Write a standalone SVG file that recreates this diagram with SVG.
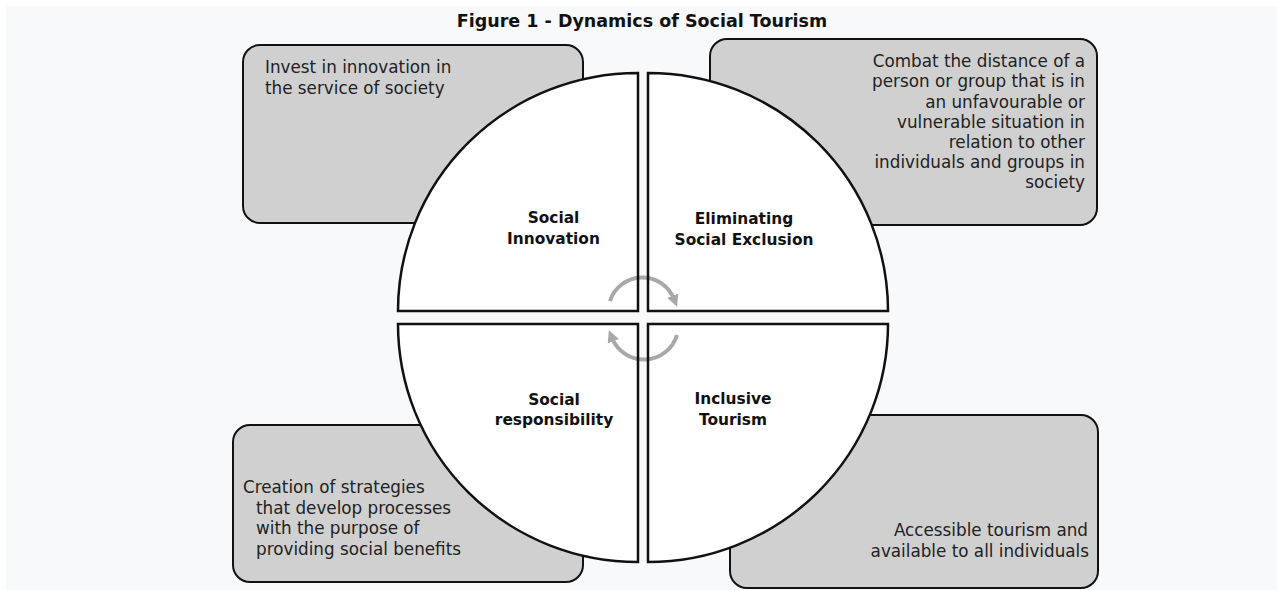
<svg xmlns="http://www.w3.org/2000/svg" xmlns:xlink="http://www.w3.org/1999/xlink" width="1277" height="590" viewBox="0 0 1277 590">
  <style>
    .bg { fill: #f8f9fa; }
    .box { fill: #d0d0d0; stroke: #111; stroke-width: 2; }
    .qfill { fill: #ffffff; stroke: none; }
    .qline { fill: none; stroke: #111; stroke-width: 2.5; stroke-linejoin: miter; }
    .txt { font-family: "DejaVu Sans", "Open Sans", sans-serif; font-size: 16.8px; fill: #222; }
    .lbl { font-family: "DejaVu Sans", "Open Sans", sans-serif; font-size: 15.4px; font-weight: bold; fill: #111; text-anchor: middle; }
    .title { font-family: "DejaVu Sans", "Open Sans", sans-serif; font-size: 17.5px; font-weight: bold; fill: #111; text-anchor: middle; }
    .cyc { fill: none; stroke: #a8a8a8; stroke-width: 4; }
  </style>
  <defs>
    <marker id="ah" viewBox="0 0 10 10" refX="3" refY="5" markerWidth="3" markerHeight="3" orient="auto" markerUnits="strokeWidth">
      <path d="M0,0 L10,5 L0,10 Z" fill="#a8a8a8"/>
    </marker>
    <path id="qTL" d="M638,73 L638,311 L398,311 A240,238 0 0 1 638,73 Z"/>
    <path id="qTR" d="M648,73 L648,311 L888,311 A240,238 0 0 0 648,73 Z"/>
    <path id="qBL" d="M398,324 L638,324 L638,562 A240,238 0 0 1 398,324 Z"/>
    <path id="qBR" d="M648,324 L888,324 A240,238 0 0 1 648,562 Z"/>
  </defs>

  <rect class="bg" x="6" y="6" width="1271" height="584"/>

  <text class="title" x="642" y="27">Figure 1 - Dynamics of Social Tourism</text>

  <g id="box-innovation">
    <rect class="box" x="243" y="45" width="340" height="178" rx="17"/>
    <text class="txt" x="265" y="73">Invest in innovation in</text>
    <text class="txt" x="265" y="94">the service of society</text>
  </g>
  <g id="box-exclusion">
    <rect class="box" x="710" y="39" width="387" height="186" rx="17"/>
    <g text-anchor="end">
      <text class="txt" x="1085" y="67">Combat the distance of a</text>
      <text class="txt" x="1085" y="87">person or group that is in</text>
      <text class="txt" x="1085" y="107.5">an unfavourable or</text>
      <text class="txt" x="1085" y="127.5">vulnerable situation in</text>
      <text class="txt" x="1085" y="147.5">relation to other</text>
      <text class="txt" x="1085" y="168">individuals and groups in</text>
      <text class="txt" x="1085" y="188">society</text>
    </g>
  </g>
  <g id="box-responsibility">
    <rect class="box" x="233" y="425" width="350" height="157" rx="17"/>
    <text class="txt" x="243" y="493">Creation of strategies</text>
    <text class="txt" x="256" y="513.5">that develop processes</text>
    <text class="txt" x="256" y="534">with the purpose of</text>
    <text class="txt" x="256" y="554.5">providing social benefits</text>
  </g>
  <g id="box-inclusive">
    <rect class="box" x="730" y="415" width="368" height="173" rx="17"/>
    <g text-anchor="end">
      <text class="txt" x="1088" y="536">Accessible tourism and</text>
      <text class="txt" x="1089" y="557">available to all individuals</text>
    </g>
  </g>

  <g id="quadrant-fills">
    <use xlink:href="#qTL" class="qfill"/>
    <use xlink:href="#qTR" class="qfill"/>
    <use xlink:href="#qBL" class="qfill"/>
    <use xlink:href="#qBR" class="qfill"/>
  </g>

  <g id="connectors">
    <path class="cyc" d="M610,301 A34,34 0 0 1 674,299" marker-end="url(#ah)"/>
    <path class="cyc" d="M677,335 A34.5,34.5 0 0 1 612,338" marker-end="url(#ah)"/>
  </g>

  <g id="quadrant-social-innovation">
    <use xlink:href="#qTL" class="qline"/>
    <text class="lbl" x="553.5" y="223">Social</text>
    <text class="lbl" x="553.5" y="244">Innovation</text>
  </g>
  <g id="quadrant-eliminating-social-exclusion">
    <use xlink:href="#qTR" class="qline"/>
    <text class="lbl" x="744" y="224">Eliminating</text>
    <text class="lbl" x="744" y="245">Social Exclusion</text>
  </g>
  <g id="quadrant-social-responsibility">
    <use xlink:href="#qBL" class="qline"/>
    <text class="lbl" x="554" y="405">Social</text>
    <text class="lbl" x="554" y="425">responsibility</text>
  </g>
  <g id="quadrant-inclusive-tourism">
    <use xlink:href="#qBR" class="qline"/>
    <text class="lbl" x="733" y="404">Inclusive</text>
    <text class="lbl" x="733" y="425">Tourism</text>
  </g>
</svg>
